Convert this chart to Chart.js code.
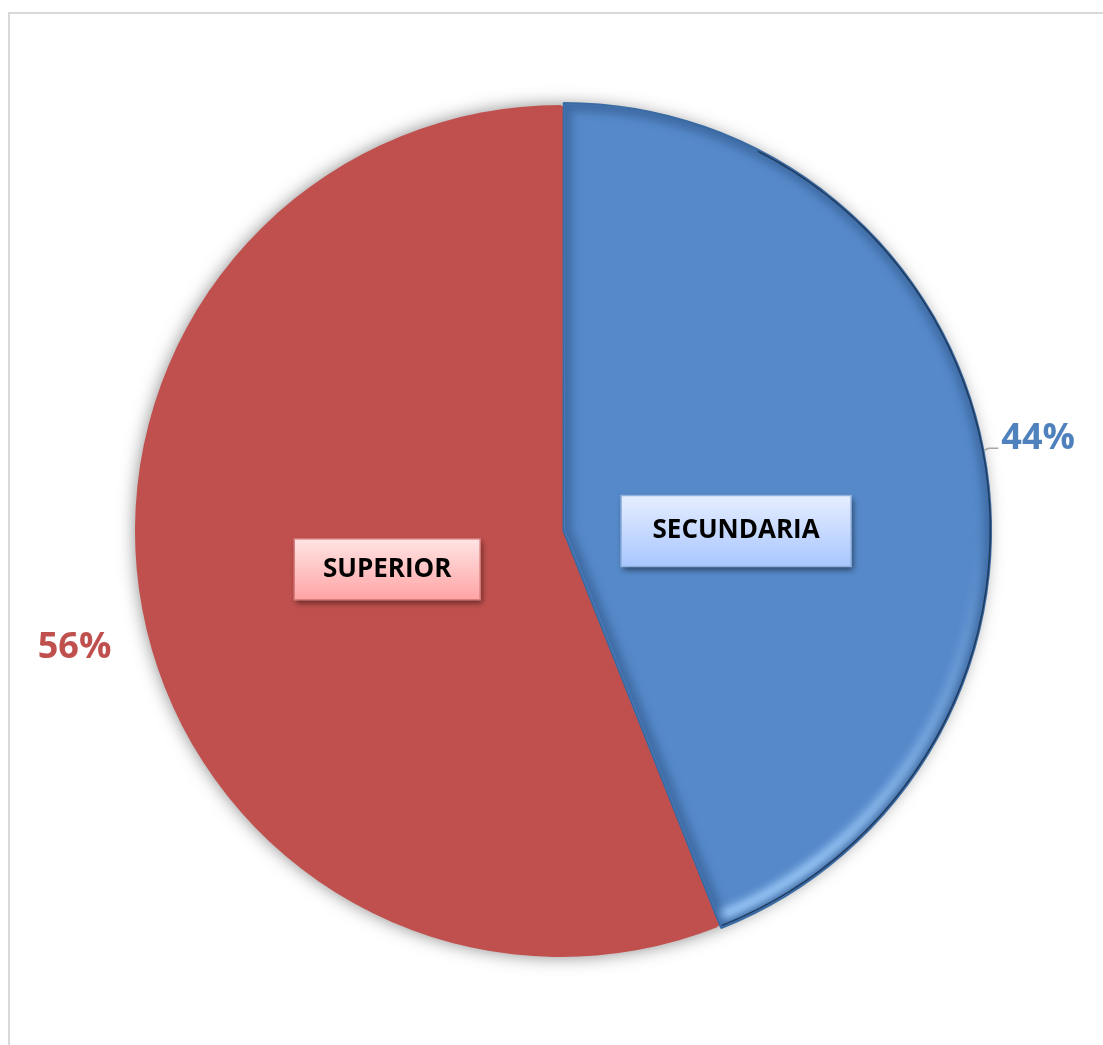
<!DOCTYPE html>
<html>
<head>
<meta charset="utf-8">
<title>Nivel de estudios</title>
<script src="https://cdn.jsdelivr.net/npm/chart.js@4.4.0/dist/chart.umd.min.js"></script>
<style>
    html, body { margin: 0; padding: 0; background: #ffffff; overflow: hidden; }
    #frame {
        position: absolute; left: 8px; top: 12px; width: 1200px; height: 1100px;
        border-left: 2px solid #d9d9d9; border-top: 2px solid #d9d9d9;
    }
    #wrap { position: absolute; left: 0; top: 0; width: 1103px; height: 1045px; }
</style>
</head>
<body>
<div id="frame"></div>
<div id="wrap"><canvas id="pieChart"></canvas></div>
<script>
// Data
const categories = ['SECUNDARIA', 'SUPERIOR'];
const percentages = [44, 56];
const sliceColors = ['#5589c9', '#c0504d'];
const borderColors = ['#3a6aa3', '#c0504d'];
const pctColors = ['#4f81bd', '#c0504d'];

// Label placement, in units of the pie radius from its centre
const boxSpots = [[0.411, 0.0], [-0.408, 0.09]];
const pctSpots = [[1.12, -0.216], [-1.142, 0.273]];
const boxSizes = [[230, 71], [186, 61]];
const boxGradients = [['#e6eeff', '#a8c6ff', '#8fb1de'], ['#ffe4e4', '#ffa4a4', '#d87a78']];

const labelFont = 'bold 26px "Open Sans", "Noto Sans", sans-serif';
const pctFont = 'bold 36px "Open Sans", "Noto Sans", sans-serif';

// same shift ArcElement.draw applies for an offset slice
function arcShift(arc) {
    const off = (arc.options.offset || 0) / 4;
    const fix = 1 - Math.sin(Math.min(Math.PI, arc.circumference || 0));
    const half = (arc.startAngle + arc.endAngle) / 2;
    const t = off + off * fix;
    return { dx: Math.cos(half) * t, dy: Math.sin(half) * t, half: half };
}

function arcPath(ctx, x, y, r, a0, a1) {
    ctx.beginPath();
    ctx.moveTo(x, y);
    ctx.arc(x, y, r, a0, a1);
    ctx.closePath();
}

const pieDecor = {
    id: 'pieDecor',
    beforeDatasetsDraw(chart) {
        // soft shadow under the whole pie
        const arc = chart.getDatasetMeta(0).data[0];
        const ctx = chart.ctx;
        ctx.save();
        ctx.shadowColor = 'rgba(0,0,0,0.5)';
        ctx.shadowBlur = 18;
        ctx.fillStyle = '#c0504d';
        ctx.beginPath();
        ctx.arc(arc.x, arc.y, arc.outerRadius - 1, 0, Math.PI * 2);
        ctx.fill();
        ctx.restore();
    },
    afterDatasetsDraw(chart) {
        const ctx = chart.ctx;
        const arcs = chart.getDatasetMeta(0).data;

        // bevel on the blue slice
        const blue = arcs[0];
        const s = arcShift(blue);
        const bx = blue.x + s.dx, by = blue.y + s.dy, r = blue.outerRadius;
        ctx.save();
        arcPath(ctx, bx, by, r, blue.startAngle, blue.endAngle);
        ctx.clip();
        ctx.filter = 'blur(4px)';
        ctx.lineJoin = 'round';
        ctx.lineWidth = 14;
        ctx.strokeStyle = 'rgba(35,70,120,0.45)';
        arcPath(ctx, bx, by, r, blue.startAngle, blue.endAngle);
        ctx.stroke();
        // light rim towards the bottom, fading in
        const glow = ctx.createConicGradient(0, bx, by);
        glow.addColorStop(0, 'rgba(165,210,255,0)');
        glow.addColorStop(0.15, 'rgba(165,210,255,0.9)');
        glow.addColorStop(0.25, 'rgba(165,210,255,0.95)');
        glow.addColorStop(0.26, 'rgba(165,210,255,0)');
        glow.addColorStop(1, 'rgba(165,210,255,0)');
        ctx.lineWidth = 10;
        ctx.strokeStyle = glow;
        ctx.beginPath();
        ctx.arc(bx, by, r - 10, 0, blue.endAngle - 0.01);
        ctx.stroke();
        ctx.filter = 'none';
        ctx.lineWidth = 3;
        ctx.strokeStyle = '#1f3b5f';
        ctx.beginPath();
        ctx.arc(bx, by, r, -Math.PI * 0.35, blue.endAngle);
        ctx.stroke();
        ctx.restore();

        // percentage labels
        ctx.save();
        ctx.font = pctFont;
        ctx.textAlign = 'center';
        ctx.textBaseline = 'middle';
        arcs.forEach((arc, i) => {
            const px = arc.x + pctSpots[i][0] * arc.outerRadius;
            const py = arc.y + pctSpots[i][1] * arc.outerRadius;
            if (i === 0) {
                const sh = arcShift(arc);
                const ex = arc.x + sh.dx + Math.cos(sh.half) * (arc.outerRadius + 1);
                const ey = arc.y + sh.dy + Math.sin(sh.half) * (arc.outerRadius + 1);
                const w = ctx.measureText(percentages[i] + '%').width;
                ctx.strokeStyle = '#a6a6a6';
                ctx.lineWidth = 1.5;
                ctx.beginPath();
                ctx.moveTo(ex, ey);
                ctx.lineTo(ex + 4, ey - 2);
                ctx.lineTo(px - w / 2 - 3, ey - 2);
                ctx.stroke();
            }
            ctx.fillStyle = pctColors[i];
            ctx.fillText(percentages[i] + '%', px, py);
        });
        ctx.restore();

        // category boxes
        arcs.forEach((arc, i) => {
            const cx = arc.x + boxSpots[i][0] * arc.outerRadius;
            const cy = arc.y + boxSpots[i][1] * arc.outerRadius;
            const [w, h] = boxSizes[i];
            const x0 = cx - w / 2, y0 = cy - h / 2;
            const g = ctx.createLinearGradient(0, y0, 0, y0 + h);
            g.addColorStop(0, boxGradients[i][0]);
            g.addColorStop(1, boxGradients[i][1]);
            ctx.save();
            ctx.shadowColor = 'rgba(0,0,0,0.5)';
            ctx.shadowBlur = 6;
            ctx.shadowOffsetX = 2;
            ctx.shadowOffsetY = 3;
            ctx.fillStyle = g;
            ctx.fillRect(x0, y0, w, h);
            ctx.restore();
            ctx.save();
            ctx.strokeStyle = boxGradients[i][2];
            ctx.lineWidth = 1.5;
            ctx.strokeRect(x0, y0, w, h);
            ctx.fillStyle = '#000000';
            ctx.font = labelFont;
            ctx.textAlign = 'center';
            ctx.textBaseline = 'middle';
            ctx.fillText(categories[i], cx, cy);
            ctx.restore();
        });
    }
};

const ctx = document.getElementById('pieChart').getContext('2d');
new Chart(ctx, {
    type: 'pie',
    data: {
        labels: categories,
        datasets: [{
            data: percentages,
            backgroundColor: sliceColors,
            borderColor: borderColors,
            borderWidth: [2, 0],
            offset: [10, 0]
        }]
    },
    options: {
        responsive: true,
        maintainAspectRatio: false,
        animation: false,
        layout: {
            padding: { left: 129, right: 110, top: 99, bottom: 82 }
        },
        plugins: {
            legend: { display: false },
            tooltip: { enabled: false }
        }
    },
    plugins: [pieDecor]
});
</script>
</body>
</html>
